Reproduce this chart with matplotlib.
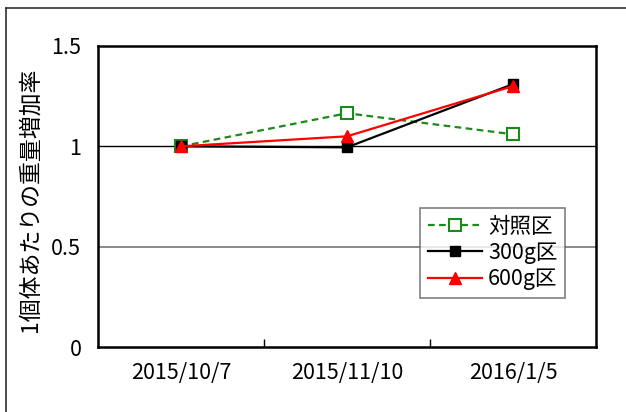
import matplotlib.pyplot as plt
from matplotlib.lines import Line2D

plt.rcParams['font.family'] = ['Noto Sans CJK JP', 'DejaVu Sans']

# 調査日と各区の重量増加率
dates = ['2015/10/7', '2015/11/10', '2016/1/5']
control = [1.0, 1.165, 1.06]
g300 = [1.0, 0.995, 1.31]
g600 = [1.0, 1.05, 1.30]
labels = ['対照区', '300g区', '600g区']

fig = plt.figure(figsize=(6.26, 4.12), dpi=100)
ax = fig.add_axes([98 / 626, 65 / 412, 498 / 626, 301 / 412])

x = range(len(dates))
ax.axhline(1.0, color='black', lw=1, zorder=1)
ax.axhline(0.5, color='#808080', lw=1.3, zorder=1)

ax.plot(x, control, color='#1a8a1a', ls='--', lw=1.6, dashes=(3, 2),
        marker='s', ms=9, mfc='white', mec='#1a8a1a', mew=1.5, label=labels[0], zorder=3)
ax.plot(x, g300, color='black', lw=1.6, marker='s', ms=7.5,
        mfc='black', mec='black', label=labels[1], zorder=4)
ax.plot(x, g600, color='red', lw=1.6, marker='^', ms=8,
        mfc='red', mec='red', label=labels[2], zorder=5)

ax.set_xlim(-0.5, 2.5)
ax.set_ylim(0, 1.5)
ax.set_xticks(list(x))
ax.set_xticklabels(dates, fontsize=15.5)
ax.set_xticks([0.5, 1.5], minor=True)
ax.tick_params(axis='x', which='major', length=0, pad=11)
ax.tick_params(axis='x', which='minor', direction='in', length=6, width=1)
ax.set_yticks([0, 0.5, 1, 1.5])
ax.set_yticklabels(['0', '0.5', '1', '1.5'], fontsize=15.5)
ax.tick_params(axis='y', length=0, pad=12)
for s in ax.spines.values():
    s.set_linewidth(1.8)

fig.text(30 / 626, 0.515, '1個体あたりの重量増加率', rotation=90,
         ha='center', va='center', fontsize=16.5)

leg = ax.legend(loc='upper left', bbox_to_anchor=(0.647, 0.462), fontsize=15.5,
                frameon=True, fancybox=False, edgecolor='#606060',
                handlelength=2.5, handletextpad=0.3, borderpad=0.35,
                labelspacing=0.2, borderaxespad=0)
leg.get_frame().set_linewidth(1.2)

# 外枠
fig.add_artist(Line2D([6 / 626, 6 / 626], [0, 1 - 8 / 412], color='#303030', lw=1.2))
fig.add_artist(Line2D([6 / 626, 1], [1 - 8 / 412, 1 - 8 / 412], color='#303030', lw=1.2))

fig.savefig('out.png', dpi=100)
